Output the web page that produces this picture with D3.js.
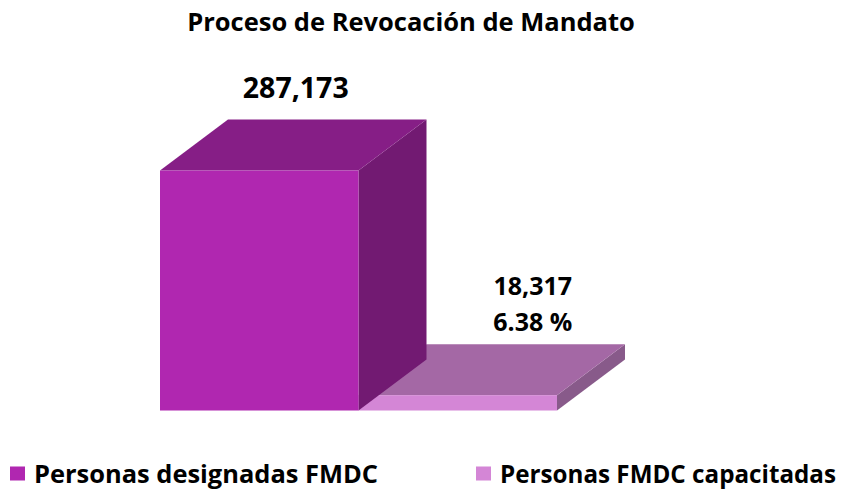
<!DOCTYPE html>
<html>
<head>
<meta charset="utf-8">
<script src="https://cdn.jsdelivr.net/npm/d3@7"></script>
<style>
  body { margin: 0; background: #fff; }
  text { font-family: "Open Sans", "Noto Sans", sans-serif; font-weight: bold; fill: #000; }
</style>
</head>
<body>
<div id="chart"></div>
<script>
var categories = ["Personas designadas FMDC", "Personas FMDC capacitadas"];
var values = [287173, 18317];
var valueLabels = [["287,173"], ["18,317", "6.38 %"]];
var title = "Proceso de Revocación de Mandato";

var frontColors = ["#b027b0", "#d486d6"];
var topColors = ["#861e86", "#a468a5"];
var sideColors = ["#721a72", "#885a8a"];

var WIDTH = 848, HEIGHT = 489;
var DX = 68, DY = 51;   // profundidad 3D

var svg = d3.select("#chart").append("svg")
    .attr("width", WIDTH)
    .attr("height", HEIGHT);

var x = d3.scaleBand()
    .domain(categories)
    .range([160, 557])
    .paddingInner(0);

var y = d3.scaleLinear()
    .domain([0, 300000])
    .range([410.5, 159.8]);

svg.append("text")
    .attr("x", 411)
    .attr("y", 31)
    .attr("text-anchor", "middle")
    .style("font-size", "25.5px")
    .text(title);

var bars = svg.append("g").attr("id", "bars");

// dibujar de derecha a izquierda para que la cara frontal tape bien
var order = d3.range(categories.length).reverse();

order.forEach(function (i) {
    var x0 = x(categories[i]), x1 = x0 + x.bandwidth();
    var yt = y(values[i]), yb = y(0);
    var g = bars.append("g");

    // lado derecho
    g.append("path")
        .attr("d", "M" + x1 + "," + yt + "L" + (x1 + DX) + "," + (yt - DY) +
            "L" + (x1 + DX) + "," + (yb - DY) + "L" + x1 + "," + yb + "Z")
        .attr("fill", sideColors[i]);
    // cara superior
    g.append("path")
        .attr("d", "M" + x0 + "," + yt + "L" + (x0 + DX) + "," + (yt - DY) +
            "L" + (x1 + DX) + "," + (yt - DY) + "L" + x1 + "," + yt + "Z")
        .attr("fill", topColors[i]);
    // cara frontal
    g.append("rect")
        .attr("x", x0)
        .attr("y", yt)
        .attr("width", x.bandwidth())
        .attr("height", yb - yt)
        .attr("fill", frontColors[i]);
});

// etiquetas de datos
var labelShift = [36.5, 75];
var labelSize = [28.5, 25];
var labelGap = [22, 13];
categories.forEach(function (c, i) {
    var cx = x(c) + x.bandwidth() / 2 + labelShift[i];
    var top = y(values[i]) - DY;
    var lines = valueLabels[i];
    lines.forEach(function (t, j) {
        svg.append("text")
            .attr("x", cx)
            .attr("y", top - labelGap[i] - (lines.length - 1 - j) * 36)
            .attr("text-anchor", "middle")
            .style("font-size", labelSize[i] + "px")
            .text(t);
    });
});

// leyenda (ancho ajustado al de la fuente original, mas estrecha)
var legendX = [10, 476];
var legendW = [344, 336];
var legend = svg.append("g").attr("id", "legend");
categories.forEach(function (c, i) {
    legend.append("rect")
        .attr("x", legendX[i])
        .attr("y", 466.5)
        .attr("width", 15)
        .attr("height", 14)
        .attr("fill", frontColors[i]);
    legend.append("text")
        .attr("x", legendX[i] + 24)
        .attr("y", 482.5)
        .attr("textLength", legendW[i])
        .attr("lengthAdjust", "spacingAndGlyphs")
        .style("font-size", "25px")
        .text(c);
});
</script>
</body>
</html>
